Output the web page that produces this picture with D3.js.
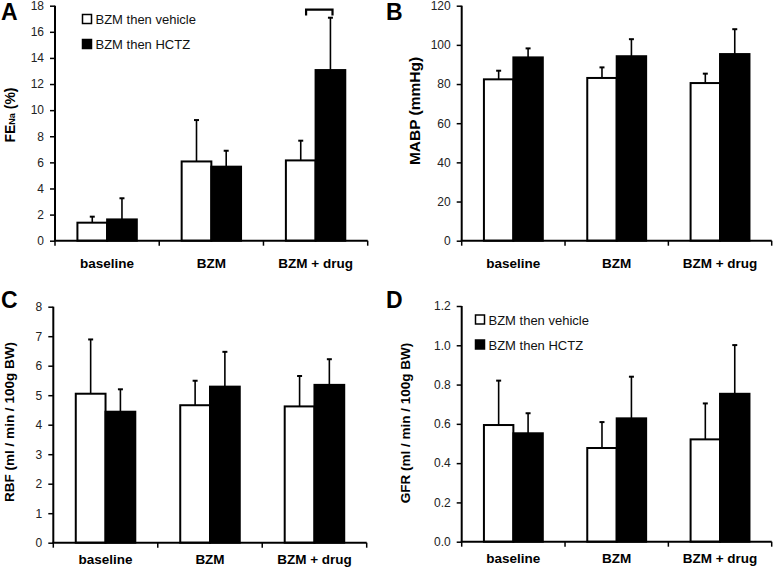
<!DOCTYPE html>
<html><head><meta charset="utf-8">
<script src="https://cdn.jsdelivr.net/npm/d3@7"></script>
<style>
html,body{margin:0;padding:0;background:#fff;}
svg{display:block;font-family:"Liberation Sans",Arial,sans-serif;}
</style></head>
<body>
<svg id="chart" width="775" height="571"></svg>
<script>
const categories = ["baseline", "BZM", "BZM + drug"];
const series = ["BZM then vehicle", "BZM then HCTZ"];

const fenaVehicle = [1.38, 6.07, 6.15];
const fenaVehicleErr = [0.46, 3.17, 1.51];
const fenaHCTZ = [1.63, 5.67, 13.07];
const fenaHCTZErr = [1.62, 1.22, 4.01];
const fenaTicks = [0, 2, 4, 6, 8, 10, 12, 14, 16, 18];

const mabpVehicle = [82.4, 83.1, 80.5];
const mabpVehicleErr = [4.4, 5.4, 4.8];
const mabpHCTZ = [93.6, 94.2, 95.3];
const mabpHCTZErr = [4.6, 8.7, 12.7];
const mabpTicks = [0, 20, 40, 60, 80, 100, 120];

const rbfVehicle = [5.05, 4.66, 4.62];
const rbfVehicleErr = [1.84, 0.83, 1.03];
const rbfHCTZ = [4.44, 5.29, 5.35];
const rbfHCTZErr = [0.76, 1.18, 0.87];
const rbfTicks = [0, 1, 2, 3, 4, 5, 6, 7, 8];

const gfrVehicle = [0.594, 0.477, 0.521];
const gfrVehicleErr = [0.226, 0.132, 0.183];
const gfrHCTZ = [0.552, 0.628, 0.753];
const gfrHCTZErr = [0.102, 0.212, 0.248];
const gfrTicks = [0, 0.2, 0.4, 0.6, 0.8, 1.0, 1.2];

const svg = d3.select("#chart");
const fills = ["#fff", "#000"];

function panel(o) {
  const g = svg.append("g");
  const y = d3.scaleLinear().domain([0, o.ticks[o.ticks.length - 1]]).range([o.y0, o.yTop]);
  const x0 = d3.scaleBand().domain(categories).range([o.xL, o.xR]).padding(0);
  const x1 = d3.scaleBand().domain(series).range([0, x0.bandwidth()]).paddingInner(0).paddingOuter(0.755);
  const vals = [o.v, o.h];
  const errs = [o.ve, o.he];

  // bars
  series.forEach((s, si) => {
    categories.forEach((c, ci) => {
      const v = vals[si][ci], e = errs[si][ci];
      const bx = x0(c) + x1(s), bw = x1.bandwidth();
      const cx = bx + bw / 2;
      g.append("line").attr("x1", cx).attr("x2", cx).attr("y1", y(v)).attr("y2", y(v + e))
        .attr("stroke", "#000").attr("stroke-width", 1.6);
      g.append("line").attr("x1", cx - 2.5).attr("x2", cx + 2.5).attr("y1", y(v + e)).attr("y2", y(v + e))
        .attr("stroke", "#000").attr("stroke-width", 2);
      g.append("rect").attr("x", bx).attr("y", y(v)).attr("width", bw).attr("height", y(0) - y(v))
        .attr("fill", fills[si]).attr("stroke", "#000").attr("stroke-width", 2);
    });
  });

  // y axis
  const ay = g.append("g").attr("transform", `translate(${o.xL},0)`)
    .call(d3.axisLeft(y).tickValues(o.ticks).tickSize(5).tickSizeOuter(0).tickPadding(6).tickFormat(o.fmt));
  ay.select(".domain").attr("stroke-width", 2).attr("d", `M0,${o.y0}V${o.yTop}`);
  ay.selectAll(".tick line").attr("stroke-width", 1.5);
  ay.selectAll(".tick text").attr("font-size", 12).attr("fill", "#222")
    .attr("font-family", "Liberation Sans, Arial, sans-serif");

  // x axis
  g.append("line").attr("x1", o.xL - 1).attr("x2", o.xR).attr("y1", o.y0).attr("y2", o.y0)
    .attr("stroke", "#000").attr("stroke-width", 2);
  [o.xL].concat(categories.map(c => x0(c) + x0.bandwidth())).forEach(xx => {
    g.append("line").attr("x1", xx).attr("x2", xx).attr("y1", o.y0).attr("y2", o.y0 + 5)
      .attr("stroke", "#000").attr("stroke-width", 1.5);
  });
  categories.forEach(c => {
    g.append("text").attr("x", x0(c) + x0.bandwidth() / 2).attr("y", o.y0 + o.labOff)
      .attr("text-anchor", "middle").attr("font-size", 13.5).attr("font-weight", "bold").text(c);
  });

  // axis title
  const t = g.append("text").attr("transform", `translate(${o.tx},${o.ty}) rotate(-90)`)
    .attr("text-anchor", "middle").attr("font-size", o.tsize).attr("font-weight", "bold");
  if (o.titleSub) {
    t.append("tspan").text(o.title);
    t.append("tspan").attr("font-size", 9).text(o.titleSub);
    t.append("tspan").text(o.titleEnd);
  } else {
    t.text(o.title);
  }

  // panel letter
  g.append("text").attr("x", o.lx).attr("y", o.ly).attr("font-size", 23).attr("font-weight", "bold").text(o.letter);

  // legend
  if (o.legend) {
    series.forEach((s, si) => {
      const ly = o.legend[1] + si * 25;
      g.append("rect").attr("x", o.legend[0]).attr("y", ly).attr("width", 9).attr("height", 9)
        .attr("fill", fills[si]).attr("stroke", "#000").attr("stroke-width", 1.5);
      g.append("text").attr("x", o.legend[0] + 13).attr("y", ly + 9.5).attr("font-size", 13).attr("fill", "#111").text(s);
    });
  }
  return {g, x0, x1, y};
}

const pA = panel({xL: 55, xR: 367.7, y0: 240.7, yTop: 5.7, ticks: fenaTicks, fmt: d3.format("d"),
  v: fenaVehicle, ve: fenaVehicleErr, h: fenaHCTZ, he: fenaHCTZErr, labOff: 27,
  title: "FE", titleSub: "Na", titleEnd: " (%)", tsize: 14, tx: 15, ty: 115, letter: "A", lx: 1, ly: 20, legend: [82.5, 14.5]});

// significance bracket on panel A
(function () {
  const c = categories[2];
  const xa = pA.x0(c) + pA.x1(series[0]) + pA.x1.bandwidth() * 0.68;
  const xb = pA.x0(c) + pA.x1(series[1]) + pA.x1.bandwidth() * 0.57;
  const yt = pA.y(17.7), yb = pA.y(17.25);
  pA.g.append("path").attr("d", `M${xa},${yb}V${yt}H${xb}V${yb}`)
    .attr("fill", "none").attr("stroke", "#000").attr("stroke-width", 2.2);
})();

panel({xL: 461.7, xR: 771.7, y0: 240.7, yTop: 5.7, ticks: mabpTicks, fmt: d3.format("d"),
  v: mabpVehicle, ve: mabpVehicleErr, h: mabpHCTZ, he: mabpHCTZErr, labOff: 27,
  title: "MABP (mmHg)", tsize: 15.5, tx: 420, ty: 111, letter: "B", lx: 386, ly: 20});

panel({xL: 53.3, xR: 366.7, y0: 542.7, yTop: 306.7, ticks: rbfTicks, fmt: d3.format("d"),
  v: rbfVehicle, ve: rbfVehicleErr, h: rbfHCTZ, he: rbfHCTZErr, labOff: 21,
  title: "RBF (ml / min / 100g BW)", tsize: 13.5, tx: 13.5, ty: 422, letter: "C", lx: 1, ly: 308});

panel({xL: 461.7, xR: 771.7, y0: 541.7, yTop: 306, ticks: gfrTicks, fmt: d3.format(".1f"),
  v: gfrVehicle, ve: gfrVehicleErr, h: gfrHCTZ, he: gfrHCTZErr, labOff: 21.5,
  title: "GFR (ml / min / 100g BW)", tsize: 13.5, tx: 410, ty: 423, letter: "D", lx: 386, ly: 308, legend: [475.5, 315]});
</script>
</body></html>
